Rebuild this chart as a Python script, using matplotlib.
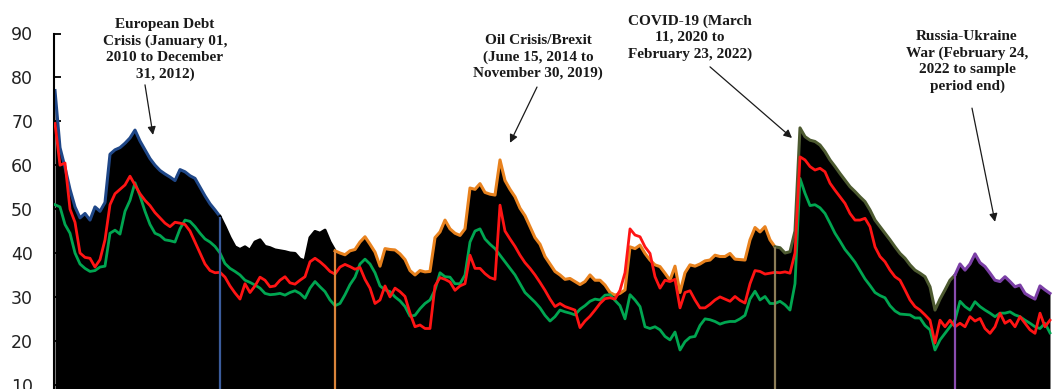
import numpy as np
import matplotlib
matplotlib.use("Agg")
import matplotlib.pyplot as plt

# Total connectedness (black area, outlined by sub-period) and two component series
total = [
    77.0, 64.0, 59.5, 54.5, 50.5, 48.0, 49.0, 47.5, 50.5, 49.5,
    51.5, 62.5, 63.5, 64.0, 65.0, 66.2, 68.0, 65.5, 63.5, 61.5,
    60.0, 58.8, 58.0, 57.3, 56.5, 59.0, 58.5, 57.6, 57.0, 55.0,
    53.0, 51.2, 49.8, 48.3, 46.0, 43.5, 41.4, 40.8, 41.4, 40.6,
    42.5, 43.0, 41.5, 41.2, 40.7, 40.5, 40.3, 40.0, 39.9, 38.6,
    38.2, 43.5, 44.9, 44.5, 45.2, 42.5, 40.5, 40.0, 39.6, 40.5,
    40.8, 42.5, 43.7, 42.0, 40.2, 37.0, 41.0, 40.8, 40.7, 39.8,
    38.5, 36.0, 35.0, 36.0, 35.7, 35.8, 43.5, 44.8, 47.5, 45.5,
    44.5, 44.0, 45.5, 54.8, 54.5, 55.8, 53.8, 53.4, 53.2, 61.2,
    56.5, 54.5, 52.8, 50.2, 48.5, 46.0, 43.5, 42.0, 39.2, 37.5,
    35.8, 35.0, 34.0, 34.2, 33.5, 32.8, 33.5, 35.0, 33.8, 33.8,
    32.7, 31.0, 30.4, 30.8, 31.6, 41.4, 41.0, 41.8, 39.9, 38.4,
    37.3, 36.9, 35.4, 33.8, 37.0, 31.0, 35.5, 37.3, 37.0, 37.5,
    38.2, 38.4, 39.5, 39.2, 39.2, 39.9, 38.6, 38.5, 38.4, 43.0,
    45.8, 44.8, 46.0, 43.0, 41.4, 41.2, 40.0, 40.3, 45.0, 68.5,
    66.5, 65.7, 65.4, 64.6, 63.1, 61.2, 59.7, 58.1, 56.6, 55.1,
    54.0, 52.8, 51.7, 49.8, 47.5, 46.0, 44.5, 43.0, 41.4, 39.9,
    38.8, 37.3, 36.1, 35.4, 34.6, 32.3, 27.0, 29.5, 31.6, 33.8,
    35.0, 37.5, 36.1, 37.5, 39.8, 37.8, 36.9, 35.4, 33.8, 33.5,
    34.6, 33.5, 32.3, 32.7, 30.8, 30.1, 29.5, 32.5, 31.6, 30.8,
]

red_series = [
    69.5, 60.0, 60.5, 50.0, 47.0, 40.0, 39.0, 38.8, 36.8, 38.5,
    43.0, 51.0, 53.5, 54.5, 55.5, 57.5, 55.5, 53.5, 52.0, 50.8,
    49.2, 48.0, 46.8, 46.0, 47.0, 46.8, 46.5, 45.0, 42.5, 40.0,
    37.5, 36.0, 35.5, 35.6, 34.5, 32.5, 30.9, 29.5, 33.0, 31.0,
    32.5, 34.5, 33.8, 32.3, 32.5, 33.8, 34.6, 33.2, 32.9, 33.8,
    34.6, 38.0, 38.8, 38.0, 37.0, 35.8, 35.2, 36.8, 37.4, 36.9,
    36.3, 36.7, 34.0, 32.0, 28.5, 29.3, 32.5, 30.0, 32.0, 31.2,
    30.1, 26.3, 23.2, 23.6, 22.8, 22.8, 32.5, 34.4, 34.0, 33.4,
    31.5, 32.5, 33.0, 39.5, 36.5, 36.5, 35.3, 34.4, 34.0, 50.9,
    45.0, 43.2, 41.5, 39.5, 37.8, 36.5, 35.0, 33.3, 31.5, 29.5,
    27.8, 28.5, 27.8, 27.4, 27.0, 23.0, 24.5, 25.6, 27.0, 28.5,
    29.6, 29.8, 29.5, 31.5, 35.5, 45.5, 44.1, 43.7, 41.4, 39.9,
    34.6, 32.0, 33.8, 33.5, 34.0, 27.5, 31.0, 31.4, 29.3, 27.5,
    27.5, 28.3, 29.3, 30.0, 29.5, 29.0, 30.1, 29.2, 28.6, 33.0,
    36.0, 35.8, 35.2, 35.4, 35.6, 35.5, 35.7, 35.4, 40.0, 61.9,
    61.2, 59.7, 58.9, 59.3, 58.5, 55.9, 54.3, 52.8, 51.3, 49.0,
    47.5, 47.5, 47.9, 46.0, 41.4, 39.2, 38.0, 36.1, 34.6, 33.8,
    31.6, 29.3, 27.8, 27.0, 25.9, 24.7, 19.5, 24.7, 23.2, 24.7,
    23.2, 24.0, 23.2, 25.5, 24.5, 25.1, 22.8, 21.7, 23.2, 26.3,
    24.0, 24.7, 23.2, 25.5, 24.0, 22.5, 21.7, 26.3, 23.2, 24.7,
]

green_series = [
    51.0, 50.5, 46.5, 44.5, 40.0, 37.5, 36.5, 35.8, 36.0, 36.8,
    37.0, 44.5, 45.2, 44.3, 49.5, 52.0, 56.0, 53.0, 49.5, 46.5,
    44.5, 44.0, 43.0, 42.8, 42.5, 45.5, 47.5, 47.2, 46.0, 44.5,
    43.2, 42.5, 41.5, 40.0, 37.6, 36.5, 35.8, 35.0, 33.8, 33.3,
    32.7, 32.0, 30.8, 30.5, 30.6, 30.8, 30.4, 31.0, 31.4, 30.8,
    29.7, 32.0, 33.5, 32.3, 31.2, 29.3, 28.0, 28.5, 30.5, 32.8,
    34.5, 37.5, 38.6, 37.5, 35.5, 32.5, 31.6, 31.2, 30.0, 29.1,
    27.8, 25.6, 25.8, 27.3, 28.5, 29.3, 31.6, 35.5, 34.6, 34.5,
    33.0, 33.0, 35.0, 42.5, 45.0, 45.5, 43.2, 42.0, 41.0, 39.5,
    38.0, 36.5, 35.0, 33.0, 31.0, 29.9, 28.8, 27.5, 25.8, 24.5,
    25.5, 27.0, 26.6, 26.3, 25.9, 27.2, 28.0, 29.0, 29.5, 29.3,
    30.4, 30.5, 29.2, 28.0, 25.0, 30.5, 29.3, 27.8, 23.2, 22.8,
    23.2, 22.5, 21.0, 20.2, 22.0, 17.9, 19.8, 20.8, 21.0, 23.5,
    25.0, 24.8, 24.4, 23.8, 24.2, 24.4, 24.4, 25.0, 25.8, 29.5,
    31.3, 29.3, 30.1, 28.5, 28.5, 29.0, 28.2, 27.0, 33.0, 57.0,
    53.6, 50.8, 51.0, 50.3, 49.0, 46.8, 44.5, 42.7, 40.8, 39.4,
    37.9, 36.0, 34.1, 32.6, 31.0, 30.3, 29.8, 28.0, 26.8, 26.1,
    26.0, 25.9, 25.2, 25.2, 23.5, 22.5, 17.9, 20.2, 21.7, 23.2,
    24.7, 29.0, 27.8, 27.0, 28.9, 27.8, 27.0, 26.3, 25.5, 26.3,
    26.3, 26.6, 25.9, 25.5, 24.7, 24.0, 23.2, 22.8, 24.0, 21.8,
]

# Sub-period breaks (observation index) and their colours
period_breaks = [0, 33, 56, 144, 180, len(total) - 1]
period_colors = ["#1f4788", "#000000", "#e8821e", "#4d5a30", "#7b3fa6"]
break_lines = [33, 56, 144, 180]
break_colors = ["#3b5c9c", "#d9843a", "#8c7d57", "#8a4cb0"]

y_ticks = [0, 10, 20, 30, 40, 50, 60, 70, 80, 90]

annotations = [
    ("European Debt\nCrisis (January 01,\n2010 to December\n31, 2012)",
     (22.0, 86.4), (18.0, 78.3), (19.6, 66.9)),
    ("Oil Crisis/Brexit\n(June 15, 2014 to\nNovember 30, 2019)",
     (96.6, 84.6), (96.4, 77.8), (91.0, 65.1)),
    ("COVID-19 (March\n11, 2020 to\nFebruary 23, 2022)",
     (127.0, 89.1), (131.0, 82.4), (147.4, 66.2)),
    ("Russia-Ukraine\nWar (February 24,\n2022 to sample\nperiod end)",
     (182.4, 83.6), (183.4, 73.0), (188.0, 47.1)),
]

W, H = 1053, 389
fig = plt.figure(figsize=(W / 100, H / 100), dpi=100)
ax = fig.add_axes([54 / W, (H - 428.6) / H, 999 / W, 395.1 / H])

x = np.arange(len(total))
tot = np.array(total)

ax.fill_between(x, 0, tot, color="black", lw=0, zorder=1)

for k in range(len(period_colors)):
    a, b = period_breaks[k], period_breaks[k + 1]
    ax.plot(x[a:b + 1], tot[a:b + 1], color=period_colors[k], lw=2.2,
            solid_joinstyle="round", zorder=2)

ax.plot(x, green_series, color="#00a651", lw=2.0, zorder=3)
ax.plot(x, red_series, color="#ff1414", lw=2.0, zorder=4)

ax.vlines(break_lines, 0, tot[break_lines], colors=break_colors, lw=1.6, zorder=5)

for text, tpos, tail, head in annotations:
    ax.text(tpos[0], tpos[1], text, ha="center", va="center",
            family="Liberation Serif", fontweight="bold", fontsize=11,
            color="#1a1a1a", linespacing=1.32, clip_on=False)
    ax.annotate("", xy=head, xytext=tail, xycoords="data", textcoords="data",
                annotation_clip=False,
                arrowprops=dict(arrowstyle="-|>", color="#1a1a1a", lw=0.9,
                                mutation_scale=12, shrinkA=0, shrinkB=0))

ax.set_xlim(-0.2, 199.6)
ax.set_ylim(0, 90)
ax.set_yticks(y_ticks)
ax.tick_params(axis="y", direction="in", length=5, width=1.3, pad=15,
               labelsize=12.5, labelcolor="#222222")
ax.tick_params(axis="x", bottom=False, labelbottom=False)
for side in ("top", "right", "bottom"):
    ax.spines[side].set_visible(False)
ax.spines["left"].set_linewidth(1.5)

fig.savefig("out.png", dpi=100)
